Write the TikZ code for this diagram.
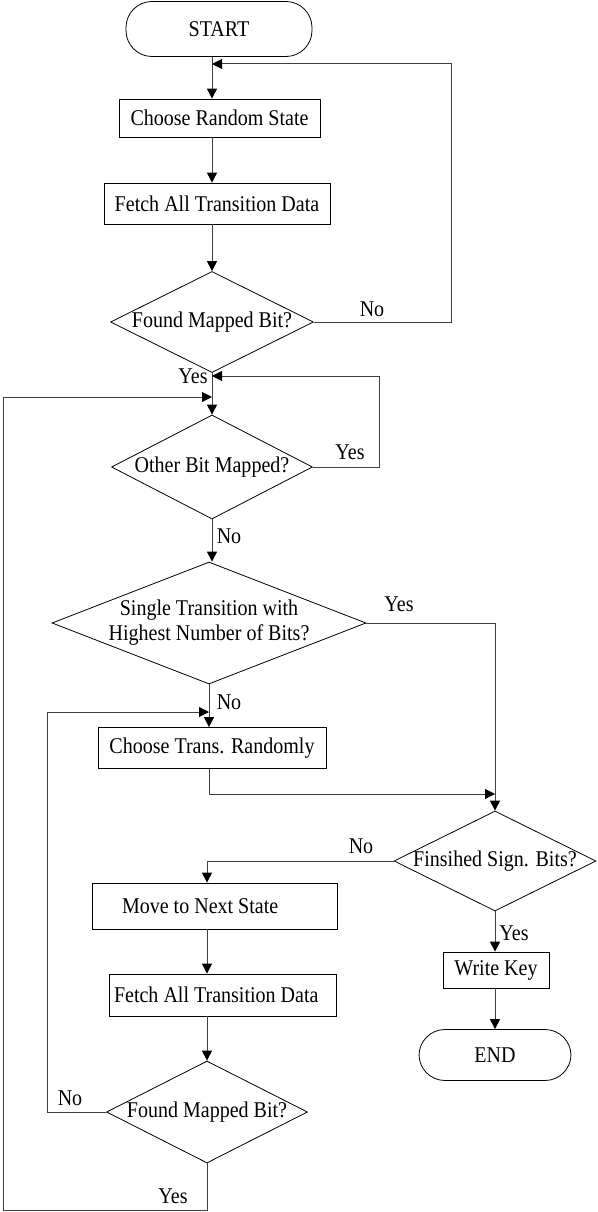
\documentclass[tikz,border=0pt]{standalone}
\usepackage{fontspec}
\setmainfont{Liberation Serif}[FakeStretch=0.89]
\usetikzlibrary{arrows.meta,shapes.geometric}
\tikzset{
  txt/.style={font=\fontsize{22.5}{25}\selectfont},
  box/.style={txt, draw, line width=0.8pt, inner sep=0pt},
  term/.style={box, rounded corners=26pt},
  dia/.style={txt, draw, diamond, line width=0.8pt, inner sep=0pt},
  line/.style={line width=1pt, draw=black!75},
  conn/.style={line, -{Triangle[length=10pt,width=10pt,fill=black,color=black]}},
  lbl/.style={txt, inner sep=0pt}
}
\begin{document}
\begin{tikzpicture}[x=1pt,y=-1pt]
\useasboundingbox (0,0) rectangle (597,1212);
% nodes
\node[term, minimum width=186pt, minimum height=55pt] (start) at (219,29) {START};
\node[box, minimum width=201pt, minimum height=38pt] (crs) at (219.5,118) {Choose Random State};
\node[box, minimum width=226pt, minimum height=41pt] (fetch1) at (217,203.5) {Fetch All Transition Data};
\node[dia, minimum width=203pt, minimum height=101pt] (d1) at (212,322) {\makebox[0pt]{Found Mapped Bit?}};
\node[dia, minimum width=201pt, minimum height=104pt] (d2) at (212,467) {\makebox[0pt]{Other Bit Mapped?}};
\node[dia, minimum width=314pt, minimum height=122pt] (d3) at (209,623) {\makebox[0pt]{\begin{tabular}{@{}c@{}}Single Transition with\\Highest Number of Bits?\end{tabular}}};
\node[box, minimum width=228pt, minimum height=41pt] (ctr) at (212,748) {Choose Trans. Randomly};
\node[dia, minimum width=202pt, minimum height=100pt] (fin) at (495,861) {\makebox[0pt]{Finsihed Sign. Bits?}};
\node[box, minimum width=245pt, minimum height=46pt] (mv) at (214.5,906) {\makebox[245pt][l]{\hspace{30pt}Move to Next State}};
\node[box, minimum width=227pt, minimum height=42pt] (fetch2) at (222.5,995) {\makebox[227pt][l]{\hspace{5pt}Fetch All Transition Data}};
\node[dia, minimum width=201pt, minimum height=102pt] (d5) at (207,1112) {\makebox[0pt]{Found Mapped Bit?}};
\node[box, minimum width=106pt, minimum height=36pt] (wk) at (496,970) {Write Key};
\node[term, minimum width=152pt, minimum height=51pt] (end) at (495,1055) {END};
% junction coordinates
\coordinate (j1) at (212,64);
\coordinate (r1) at (451,64);
\coordinate (j2) at (212,376);
\coordinate (r2) at (379,376);
\coordinate (j3) at (212,397);
\coordinate (l3) at (3,397);
\coordinate (j4) at (209,712);
\coordinate (l4) at (47,712);
\coordinate (j5) at (495,794);
\coordinate (b5) at (3,1210);
% main flow
\draw[conn] (start.south -| d1.north) -- (crs.north -| d1.north);
\draw[conn] (crs.south -| d1.north) -- (fetch1.north -| d1.north);
\draw[conn] (fetch1.south -| d1.north) -- (d1.north);
\draw[conn] (d1.south) -- (d2.north);
\draw[conn] (d2.south) -- (d2.south |- d3.north);
\draw[conn] (d3.south) -- (d3.south |- ctr.north);
\draw[conn] (d3.east) -- (d3.east -| fin.north) -- (fin.north);
\draw[conn] (ctr.south -| d3.south) |- (j5);
\draw[conn] (fin.west) -- (fin.west -| d5.north) -- (mv.north -| d5.north);
\draw[conn] (mv.south -| d5.north) -- (fetch2.north -| d5.north);
\draw[conn] (fetch2.south -| d5.north) -- (d5.north);
\draw[conn] (fin.south) -- (wk.north -| fin.south);
\draw[conn] (wk.south -| end.north) -- (end.north);
% loops
\draw[conn] (d1.east) -| (r1) -- (j1);
\draw[conn] (d2.east) -| (r2) -- (j2);
\draw[conn] (d5.south) |- (b5) -- (l3) -- (j3);
\draw[conn] (d5.west) -| (l4) -- (j4);
% labels
\node[lbl] (n1) at (372,309) {No};
\node[lbl] (y1) at (193,376) {Yes};
\node[lbl] (y2) at (350,452) {Yes};
\node[lbl] (n2) at (229,536) {No};
\node[lbl] (y3) at (399,604) {Yes};
\node[lbl] (n3) at (229,702) {No};
\node[lbl] (n4) at (361,846) {No};
\node[lbl] (y4) at (514,933) {Yes};
\node[lbl] (n5) at (70,1098) {No};
\node[lbl] (y5) at (173,1196) {Yes};
\end{tikzpicture}
\end{document}
